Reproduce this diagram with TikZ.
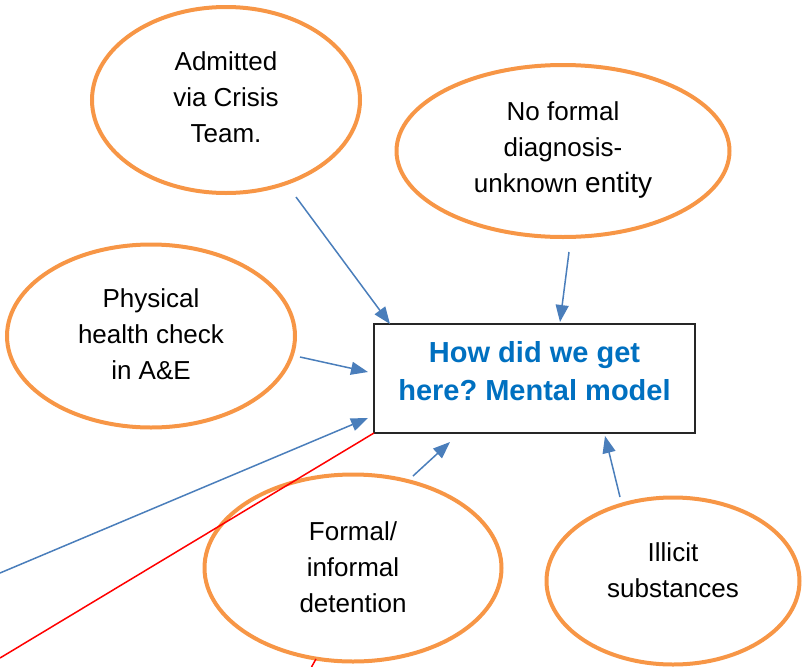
\documentclass[tikz,border=0pt]{standalone}
\usepackage{fontspec}
\setmainfont{Liberation Sans}
\usetikzlibrary{shapes.geometric,arrows.meta}
\definecolor{ovalorange}{HTML}{F79646}
\definecolor{arrowblue}{HTML}{4A7EBB}
\definecolor{titleblue}{HTML}{0070C0}
\frenchspacing
\tikzset{
  oval/.style={ellipse, draw=ovalorange, line width=4pt, inner sep=0pt},
  ovaltext/.style={align=center, font=\fontsize{26}{36}\selectfont, inner sep=0pt},
  titlebox/.style={draw=black!85, line width=1.5pt, minimum width=321pt, minimum height=109pt, inner sep=0pt},
  conn/.style={draw=arrowblue, line width=1.5pt, -{Triangle[length=17pt,width=13pt]}},
  redline/.style={draw=red, line width=1.5pt}
}
\begin{document}
\begin{tikzpicture}[x=1pt,y=-1pt]
\useasboundingbox (0,0) rectangle (804,667);
% ovals
\node[oval, minimum width=268pt, minimum height=186pt] (adm) at (226,100) {};
\node[ovaltext] (admt) at (226,97) {Admitted\\via Crisis\\Team.};
\node[oval, minimum width=333pt, minimum height=172pt] (nof) at (563,151) {};
\node[ovaltext] (noft) at (563,150) {No formal\\diagnosis-\\unknown {\fontsize{28}{36}\selectfont entity}};
\node[oval, minimum width=288pt, minimum height=183pt] (phy) at (151,336) {};
\node[ovaltext] (phyt) at (151,334) {Physical\\health check\\in A\&E};
\node[oval, minimum width=297pt, minimum height=187pt] (frm) at (353,568) {};
\node[ovaltext] (frmt) at (353,567) {Formal/\\informal\\detention};
\node[oval, minimum width=253pt, minimum height=167pt] (ill) at (673,581) {};
\node[ovaltext] (illt) at (673,570) {Illicit\\substances};
% title box
\node[titlebox] (box) at (534.5,378.5) {};
\node[align=center, text=titleblue, font=\fontsize{29}{38}\selectfont\bfseries, inner sep=0pt] (boxt) at (534.5,371) {How did we get\\here? Mental model};
% connector end points
\coordinate (a1) at (296,197);  \coordinate (a2) at (390,324);
\coordinate (b1) at (569,252);  \coordinate (b2) at (560,322);
\coordinate (c1) at (300,357);  \coordinate (c2) at (368,372);
\coordinate (d1) at (0,573);    \coordinate (d2) at (368,418);
\coordinate (e1) at (413,476);  \coordinate (e2) at (450,442);
\coordinate (f1) at (620,497);  \coordinate (f2) at (605,436);
\coordinate (r1) at (374,433);  \coordinate (r2) at (0,658);
\coordinate (s1) at (316,659);  \coordinate (s2) at (311.5,667);
% connectors
\draw[conn] (a1) -- (a2);
\draw[conn] (b1) -- (b2);
\draw[conn] (c1) -- (c2);
\draw[conn] (d1) -- (d2);
\draw[conn] (e1) -- (e2);
\draw[conn] (f1) -- (f2);
\draw[redline] (r1) -- (r2);
\draw[redline] (s1) -- (s2);
\end{tikzpicture}
\end{document}
